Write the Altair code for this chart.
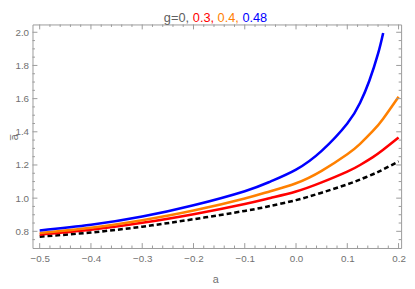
import altair as alt
import pandas as pd

# Values
a_vals = [-0.5, -0.4, -0.3, -0.2, -0.1, -0.05, 0.0, 0.05, 0.1, 0.125, 0.15, 0.17, 0.2]

g0 = [0.768, 0.793, 0.828, 0.873, 0.923, 0.953, 0.988, 1.033, 1.083, 1.112, 1.144, 1.173, 1.221]
g03 = [0.78, 0.809, 0.851, 0.903, 0.965, 1.001, 1.04, 1.095, 1.16, 1.20, 1.2475, 1.2915, 1.365]
g04 = [0.79, 0.822, 0.867, 0.925, 0.998, 1.042, 1.09, 1.165, 1.265, 1.3275, 1.405, 1.479, 1.611]

a_blue = [-0.5, -0.4, -0.3, -0.2, -0.1, -0.05, 0.0, 0.05, 0.1, 0.125, 0.143, 0.16, 0.17]
g048 = [0.805, 0.839, 0.889, 0.957, 1.042, 1.10, 1.172, 1.285, 1.45, 1.575, 1.708, 1.871, 1.996]

series = ["0.3", "0.4", "0.48"]
colors = ["#ff0000", "#ff8000", "#0000ff"]

x_major = [-0.5, -0.4, -0.3, -0.2, -0.1, 0.0, 0.1, 0.2]
y_major = [0.8, 1.0, 1.2, 1.4, 1.6, 1.8, 2.0]

x_minor = [round(-0.5 + 0.02 * i, 2) for i in range(36) if i % 5 != 0]
y_minor = [round(0.75 + 0.05 * i, 2) for i in range(26) if round(0.75 + 0.05 * i, 2) not in y_major]

W, H = 376, 228
FRAME = "#9a9a9a"
LABEL = "#707070"
FONT = "Liberation Sans"

rows = []
for s, ys, xs in [("0.3", g03, a_vals), ("0.4", g04, a_vals), ("0.48", g048, a_blue)]:
    for x, y in zip(xs, ys):
        rows.append({"a": x, "v": y, "s": s})
df = pd.DataFrame(rows)
df0 = pd.DataFrame({"a": a_vals, "v": g0})

xscale = alt.Scale(domain=[-0.514, 0.205], nice=False, zero=False)
yscale = alt.Scale(domain=[0.6995, 2.047], nice=False, zero=False)

xaxis = alt.Axis(values=x_major, format=".1f", ticks=False, domain=False, grid=False,
                 labelOverlap=False, labelPadding=6, labelFontSize=10, labelColor=LABEL,
                 labelFont=FONT, title=None)
yaxis = alt.Axis(values=y_major, format=".1f", ticks=False, domain=False, grid=False,
                 labelOverlap=False, labelPadding=4, labelFontSize=10, labelColor=LABEL,
                 labelFont=FONT, title=None)


def X(field):
    return alt.X(field, scale=xscale, axis=xaxis)


def Y(field):
    return alt.Y(field, scale=yscale, axis=yaxis)


colored = alt.Chart(df).mark_line(strokeWidth=2.6, interpolate="natural").encode(
    x=X("a:Q"),
    y=Y("v:Q"),
    color=alt.Color("s:N", scale=alt.Scale(domain=series, range=colors), legend=None),
    order=alt.Order("a:Q"),
)

black = alt.Chart(df0).mark_line(strokeWidth=2.6, color="black", strokeDash=[5, 3],
                                 interpolate="natural").encode(
    x=X("a:Q"),
    y=Y("v:Q"),
)


def xticks(vals, length):
    d = pd.DataFrame({"t": vals})
    top = alt.Chart(d).mark_rule(color=FRAME, strokeWidth=1).encode(
        x=X("t:Q"), y=alt.value(0), y2=alt.value(length))
    bot = alt.Chart(d).mark_rule(color=FRAME, strokeWidth=1).encode(
        x=X("t:Q"), y=alt.value(H), y2=alt.value(H - length))
    return [top, bot]


def yticks(vals, length):
    d = pd.DataFrame({"t": vals})
    left = alt.Chart(d).mark_rule(color=FRAME, strokeWidth=1).encode(
        y=Y("t:Q"), x=alt.value(0), x2=alt.value(length))
    right = alt.Chart(d).mark_rule(color=FRAME, strokeWidth=1).encode(
        y=Y("t:Q"), x=alt.value(W), x2=alt.value(W - length))
    return [left, right]


one = pd.DataFrame({"k": [0]})


def label(text, x, y, color, size=13, angle=0, align="left", font=FONT):
    return alt.Chart(one).mark_text(text=text, color=color, fontSize=size, font=font,
                                    align=align, baseline="middle", angle=angle).encode(
        x=alt.value(x), y=alt.value(y))


texts = [
    label("g=0,", 134, -6.5, "#606060"),
    label("0.3,", 163.5, -6.5, "#ff0000"),
    label("0.4,", 188.8, -6.5, "#ff8000"),
    label("0.48", 214.1, -6.5, "#0000ff"),
    label("a", 187, 261, LABEL, size=11, align="center"),
    label("a\u0305", -18, 115, LABEL, size=11, angle=270, align="center", font="DejaVu Sans"),
]

layers = ([black, colored] + xticks(x_major, 5) + xticks(x_minor, 2.5)
          + yticks(y_major, 5) + yticks(y_minor, 2.5) + texts)

chart = alt.layer(*layers).properties(
    width=W, height=H,
    autosize=alt.AutoSizeParams(type="none"),
    padding={"left": 25, "top": 14, "right": 6, "bottom": 38},
).configure_view(stroke=FRAME, strokeWidth=1).configure_axis(grid=False)

chart.save("out.html", embed_options={"renderer": "svg", "actions": False})
